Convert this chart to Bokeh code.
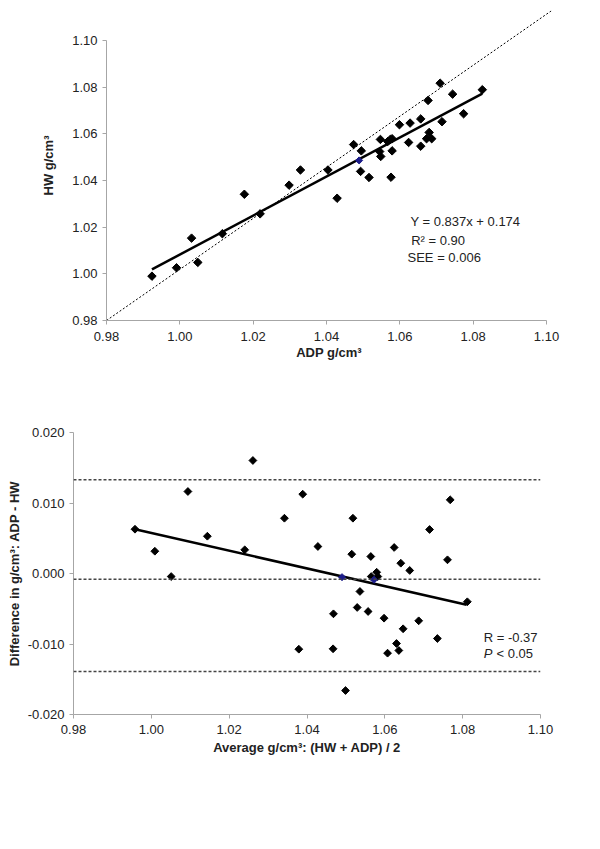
from bokeh.plotting import figure
from bokeh.models import Range1d, FixedTicker, Label, Span
from bokeh.embed import file_html
from bokeh.resources import INLINE
import numpy as np

# ---------------- data: top panel (ADP vs HW) ----------------
adp = [0.9924, 0.9991, 1.0032, 1.0049, 1.0116, 1.0176, 1.0219, 1.0298, 1.0329, 1.0404,
       1.0429, 1.0474, 1.0495, 1.0493, 1.0516, 1.0576, 1.0547, 1.0545, 1.0548, 1.0567,
       1.0574, 1.0579, 1.0579, 1.0599, 1.0624, 1.0628, 1.0657, 1.0657, 1.0673, 1.0680,
       1.0687, 1.0677, 1.0710, 1.0715, 1.0744, 1.0774, 1.0825]
hw = [0.9990, 1.0026, 1.0153, 1.0049, 1.0172, 1.0341, 1.0257, 1.0380, 1.0445, 1.0445,
      1.0324, 1.0554, 1.0527, 1.0439, 1.0413, 1.0414, 1.0576, 1.0524, 1.0503, 1.0567,
      1.0576, 1.0579, 1.0527, 1.0639, 1.0563, 1.0646, 1.0664, 1.0547, 1.0579, 1.0606,
      1.0579, 1.0743, 1.0817, 1.0652, 1.0770, 1.0686, 1.0789]
adp_blue = [1.0489]
hw_blue = [1.0486]
fit_top_x = [0.9924, 1.0825]
fit_top_y = [1.0019, 1.0772]
identity_x = [0.98, 1.1015]
identity_y = [0.98, 1.1129]
top_ticks = [0.98, 1.00, 1.02, 1.04, 1.06, 1.08, 1.10]
top_tick_labels = ["0.98", "1.00", "1.02", "1.04", "1.06", "1.08", "1.10"]
top_notes = ["Y = 0.837x + 0.174", "R\u00b2 = 0.90", "SEE = 0.006"]

# ---------------- data: bottom panel (Bland-Altman) ----------------
avg = [0.9958, 1.0009, 1.0051, 1.0094, 1.0144, 1.0240, 1.0261, 1.0342, 1.0389, 1.0379,
       1.0428, 1.0467, 1.0468, 1.0499, 1.0515, 1.0518, 1.0529, 1.0536, 1.0557, 1.0564,
       1.0565, 1.0579, 1.0582, 1.0598, 1.0607, 1.0624, 1.0630, 1.0636, 1.0641, 1.0647,
       1.0664, 1.0687, 1.0715, 1.0735, 1.0761, 1.0768, 1.0812]
diff = [0.00628, 0.00316, -0.00043, 0.01163, 0.00529, 0.00336, 0.01603, 0.00784, 0.01125, -0.01074,
        0.00383, -0.01068, -0.00572, -0.0166, 0.00274, 0.00784, -0.00482, -0.00255, -0.00539, 0.00241,
        -0.00043, 0.00018, -0.00043, -0.00634, -0.0113, 0.00369, -0.00993, -0.01092, 0.00146, -0.00784,
        0.00043, -0.00671, 0.00624, -0.00922, 0.00194, 0.01045, -0.00401]
avg_blue = [1.0490, 1.0572]
diff_blue = [-0.00052, -0.00089]
fit_bot_x = [0.9958, 1.0810]
fit_bot_y = [0.00628, -0.00444]
limits = [0.0133, -0.0008, -0.0139]
bot_xticks = [0.98, 1.00, 1.02, 1.04, 1.06, 1.08, 1.10]
bot_xtick_labels = ["0.98", "1.00", "1.02", "1.04", "1.06", "1.08", "1.10"]
bot_yticks = [-0.020, -0.010, 0.000, 0.010, 0.020]
bot_ytick_labels = ["-0.020", "-0.010", "0.000", "0.010", "0.020"]

FONT = "Liberation Sans"
AX_COL = "#a6a6a6"
TXT_COL = "#222222"


def style_axes(p, xticks, xlabels, yticks, ylabels, xb, yb):
    p.xaxis.ticker = FixedTicker(ticks=xticks)
    p.yaxis.ticker = FixedTicker(ticks=yticks)
    p.xaxis.major_label_overrides = {t: l for t, l in zip(xticks, xlabels)}
    p.yaxis.major_label_overrides = {t: l for t, l in zip(yticks, ylabels)}
    p.xaxis.bounds = xb
    p.yaxis.bounds = yb
    for ax in (p.xaxis, p.yaxis):
        ax.axis_line_color = AX_COL
        ax.major_tick_line_color = AX_COL
        ax.minor_tick_line_color = None
        ax.major_tick_out = 4
        ax.major_tick_in = 0
        ax.major_label_text_font = FONT
        ax.major_label_text_font_size = "13px"
        ax.major_label_text_color = TXT_COL
        ax.axis_label_text_font = FONT
        ax.axis_label_text_font_size = "13px"
        ax.axis_label_text_font_style = "bold"
        ax.axis_label_text_color = TXT_COL
    p.xgrid.visible = False
    p.ygrid.visible = False
    p.outline_line_color = None


# ---------------- top figure ----------------
p1 = figure(frame_width=445, frame_height=310,
            x_range=Range1d(0.98, 0.98 + 445 * 0.02 / 73.33),
            y_range=Range1d(0.98, 0.98 + 310 * 0.02 / 46.67),
            min_border_left=106, min_border_right=10, min_border_top=10, min_border_bottom=58,
            output_backend="svg", toolbar_location=None)
style_axes(p1, top_ticks, top_tick_labels, top_ticks, top_tick_labels, (0.98, 1.10), (0.98, 1.10))
p1.xaxis.axis_label = "ADP g/cm\u00b3"
p1.yaxis.axis_label = "HW g/cm\u00b3"
p1.xaxis.major_label_standoff = 7
p1.xaxis.axis_label_standoff = 1
p1.yaxis.major_label_standoff = 5
p1.yaxis.axis_label_standoff = 13

p1.line(identity_x, identity_y, line_color="black", line_width=1, line_dash="2 2")
p1.line(fit_top_x, fit_top_y, line_color="black", line_width=2.5)
p1.scatter(adp, hw, marker="square", angle=np.pi / 4, size=6, color="black")
p1.scatter(adp_blue, hw_blue, marker="square", angle=np.pi / 4, size=5, color="#1c1c8a")

note_x = [1.0629, 1.0631, 1.0621]
note_y = [1.0224, 1.0143, 1.0070]
for t, nx, ny in zip(top_notes, note_x, note_y):
    p1.add_layout(Label(x=nx, y=ny, text=t, text_font=FONT, text_font_size="13px",
                        text_color=TXT_COL, text_baseline="middle", text_align="left"))

# ---------------- bottom figure ----------------
p2 = figure(frame_width=467, frame_height=282,
            x_range=Range1d(0.98, 1.10), y_range=Range1d(-0.020, 0.020),
            min_border_left=73, min_border_right=20, min_border_top=54, min_border_bottom=50,
            output_backend="svg", toolbar_location=None)
style_axes(p2, bot_xticks, bot_xtick_labels, bot_yticks, bot_ytick_labels, (0.98, 1.10), (-0.020, 0.020))
p2.xaxis.axis_label = "Average g/cm\u00b3: (HW + ADP) / 2"
p2.yaxis.axis_label = "Difference in g/cm\u00b3: ADP - HW"
p2.xaxis.major_label_standoff = 6
p2.xaxis.axis_label_standoff = 3
p2.yaxis.major_label_standoff = 5
p2.yaxis.axis_label_standoff = 3

for lv in limits:
    p2.add_layout(Span(location=lv, dimension="width", line_color="#444444",
                       line_width=1.5, line_dash="3 2"))
p2.line(fit_bot_x, fit_bot_y, line_color="black", line_width=2.5)
p2.scatter(avg, diff, marker="square", angle=np.pi / 4, size=5.5, color="black")
p2.scatter(avg_blue, diff_blue, marker="square", angle=np.pi / 4, size=5, color="#1c1c8a")

p2.add_layout(Label(x=1.0854, y=-0.00908, text="R = -0.37", text_font=FONT, text_font_size="13px",
                    text_color=TXT_COL, text_baseline="middle"))
p2.add_layout(Label(x=1.0854, y=-0.01135, text="P", text_font=FONT, text_font_size="13px",
                    text_font_style="italic", text_color=TXT_COL, text_baseline="middle"))
p2.add_layout(Label(x=1.0887, y=-0.01135, text="< 0.05", text_font=FONT, text_font_size="13px",
                    text_color=TXT_COL, text_baseline="middle"))

open("out.html", "w").write(file_html([p1, p2], INLINE))
